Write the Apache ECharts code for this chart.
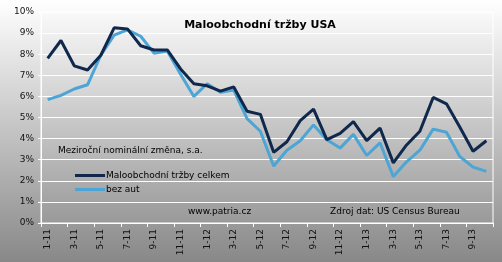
<!DOCTYPE html>
<html><head><meta charset="utf-8">
<script src="https://cdn.jsdelivr.net/npm/echarts@6/dist/echarts.min.js"></script>
<style>html,body{margin:0;padding:0;}#c{width:502px;height:262px;}</style>
</head><body><div id="c"></div>
<script>
const categories = ["1-11","2-11","3-11","4-11","5-11","6-11","7-11","8-11","9-11","10-11","11-11","12-11",
"1-12","2-12","3-12","4-12","5-12","6-12","7-12","8-12","9-12","10-12","11-12","12-12",
"1-13","2-13","3-13","4-13","5-13","6-13","7-13","8-13","9-13","10-13"];
const totalSales = [7.8, 8.65, 7.45, 7.25, 7.95, 9.25, 9.2, 8.4, 8.2, 8.2, 7.3, 6.6, 6.5, 6.25, 6.45, 5.3, 5.15, 3.35, 3.85, 4.85, 5.4, 3.95, 4.25, 4.8, 3.9, 4.5, 2.85, 3.7, 4.35, 5.95, 5.65, 4.55, 3.4, 3.9];
const exAutos = [5.85, 6.05, 6.35, 6.55, 7.95, 8.9, 9.15, 8.85, 8.05, 8.15, 7.05, 6.0, 6.6, 6.2, 6.3, 4.95, 4.35, 2.7, 3.45, 3.9, 4.65, 3.95, 3.55, 4.2, 3.2, 3.8, 2.2, 2.9, 3.45, 4.45, 4.3, 3.15, 2.65, 2.45];
const seriesNames = ["Maloobchodní tržby celkem", "bez aut"];
const title = "Maloobchodní tržby USA";
const subtitle = "Meziroční nominální změna, s.a.";
const sourceLeft = "www.patria.cz";
const sourceRight = "Zdroj dat: US Census Bureau";

const chart = echarts.init(document.getElementById('c'));
const font = 'DejaVu Sans';
chart.setOption({
  animation: false,
  backgroundColor: {type:'linear', x:0, y:0, x2:0, y2:1, colorStops:[{offset:0,color:'#ffffff'},{offset:1,color:'#888888'}]},
  title: {text: title, left: 255, top: 15, textAlign: 'center',
    textStyle: {fontFamily: font, fontSize: 11, fontWeight: 'bold', color: '#000'}},
  legend: {orient: 'vertical', left: 70, top: 166, itemGap: 5, itemWidth: 30, itemHeight: 3, icon: 'rect',
    data: seriesNames, textStyle: {fontFamily: font, fontSize: 9, color: '#000', padding:[0,0,0,-4]}},
  grid: {left: 41, right: 9, top: 12, bottom: 39, show: true, borderColor: '#ffffff', borderWidth: 1, backgroundColor: 'transparent'},
  xAxis: {type: 'category', data: categories, boundaryGap: true,
    axisLine: {lineStyle: {color: '#ffffff', width: 1}},
    axisTick: {show: true, interval: 1, length: 4, lineStyle: {color: '#ffffff'}},
    axisLabel: {interval: 1, rotate: 90, margin: 6, fontFamily: font, fontSize: 9, color: '#111'},
    splitLine: {show: false}},
  yAxis: {type: 'value', min: 0, max: 10, interval: 1,
    axisLine: {show: true, lineStyle: {color: '#ffffff', width: 1}},
    axisTick: {show: true, length: 3, lineStyle: {color: '#ffffff'}},
    axisLabel: {formatter: '{value}%', fontFamily: font, fontSize: 9, color: '#111', margin: 7},
    splitLine: {show: true, lineStyle: {color: '#ffffff', width: 1}}},
  graphic: [
    {type: 'text', left: 58, top: 146, style: {text: subtitle, font: '9px "DejaVu Sans"', fill: '#000'}},
    {type: 'text', left: 188, top: 207, style: {text: sourceLeft, font: '9px "DejaVu Sans"', fill: '#000'}},
    {type: 'text', left: 330, top: 207, style: {text: sourceRight, font: '9px "DejaVu Sans"', fill: '#000'}}
  ],
  series: [
    {name: seriesNames[0], type: 'line', data: totalSales, showSymbol: false, symbol: 'none',
      lineStyle: {color: '#10284c', width: 3}, itemStyle: {color: '#10284c'}, z: 3},
    {name: seriesNames[1], type: 'line', data: exAutos, showSymbol: false, symbol: 'none',
      lineStyle: {color: '#4ca5d4', width: 3}, itemStyle: {color: '#4ca5d4'}, z: 2}
  ]
});
</script></body></html>
